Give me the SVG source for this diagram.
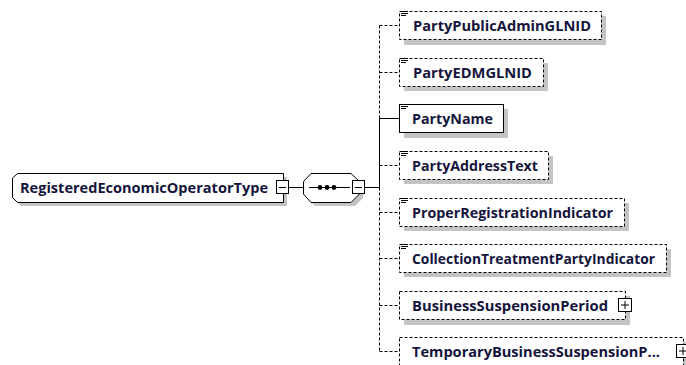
<svg xmlns="http://www.w3.org/2000/svg" width="686" height="365" viewBox="0 0 686 365">
<style>
.sh{fill:#c4c4c4;stroke:none}
.bx{fill:#fff;stroke:#000;stroke-width:1}
.dsh{stroke-dasharray:3,2}
.t{font-family:"Open Sans","DejaVu Sans",sans-serif;font-weight:bold;font-size:14px;fill:#14143c}
.ln{stroke:#000;stroke-width:1;fill:none}
.ic{stroke:#000;stroke-width:1}
</style>
<defs>
<g id="icon"><line class="ic" x1="0" y1="0.5" x2="7" y2="0.5"/><line class="ic" x1="0" y1="2.5" x2="7" y2="2.5"/><line class="ic" x1="0" y1="4.5" x2="5" y2="4.5"/></g>
</defs>
<rect width="686" height="365" fill="#fff"/>
<g id="connectors">
<line class="ln" x1="289" y1="187.5" x2="303" y2="187.5"/>
<line class="ln" x1="365" y1="187.5" x2="379.5" y2="187.5"/>
<line class="ln" x1="379.5" y1="118.5" x2="379.5" y2="187.5"/>
<line class="ln dsh" x1="379.5" y1="25.5" x2="379.5" y2="118.5"/>
<line class="ln dsh" x1="379.5" y1="187.5" x2="379.5" y2="351.5"/>
<line class="ln dsh" x1="379.5" y1="25.5" x2="399" y2="25.5"/>
<line class="ln dsh" x1="379.5" y1="72.5" x2="399" y2="72.5"/>
<line class="ln" x1="379.5" y1="118.5" x2="399" y2="118.5"/>
<line class="ln dsh" x1="379.5" y1="165.5" x2="399" y2="165.5"/>
<line class="ln dsh" x1="379.5" y1="212.5" x2="399" y2="212.5"/>
<line class="ln dsh" x1="379.5" y1="258.5" x2="399" y2="258.5"/>
<line class="ln dsh" x1="379.5" y1="305.5" x2="399" y2="305.5"/>
<line class="ln dsh" x1="379.5" y1="351.5" x2="399" y2="351.5"/>
</g>
<g id="RegisteredEconomicOperatorType">
<path class="sh" d="M16,182 L21,177 L287,177 L287,206 L21,206 L16,201 Z"/>
<path class="bx" d="M12.5,178 L17.5,173.5 L283.5,173.5 L283.5,202.5 L17.5,202.5 L12.5,197.5 Z"/>
<text class="t" x="20" y="193" textLength="248" lengthAdjust="spacingAndGlyphs">RegisteredEconomicOperatorType</text>
<rect class="bx" x="276.5" y="180.5" width="12" height="13"/>
<line class="ln" x1="279" y1="187.5" x2="286" y2="187.5"/>
</g>
<g id="sequence">
<path class="sh" d="M315,177 L355,177 L363,185 L363,198 L355,206 L315,206 L307,198 L307,185 Z"/>
<path class="bx" d="M311,173.5 L351,173.5 L359.5,181.5 L359.5,194 L351,202.5 L311,202.5 L303.5,194 L303.5,181.5 Z"/>
<line class="ln" x1="309" y1="187.5" x2="350" y2="187.5"/>
<circle cx="320" cy="187.5" r="2.4" fill="#000"/>
<circle cx="327" cy="187.5" r="2.4" fill="#000"/>
<circle cx="334" cy="187.5" r="2.4" fill="#000"/>
<rect class="bx" x="352.5" y="180.5" width="12" height="13"/>
<line class="ln" x1="355" y1="187.5" x2="362" y2="187.5"/>
</g>
<g id="PartyPublicAdminGLNID">
<rect class="sh" x="404" y="16" width="202" height="29"/>
<rect class="bx dsh" x="399.5" y="11.5" width="202" height="28"/>
<use href="#icon" x="401" y="11"/>
<text class="t" x="413" y="31" textLength="178" lengthAdjust="spacingAndGlyphs">PartyPublicAdminGLNID</text>
</g>
<g id="PartyEDMGLNID">
<rect class="sh" x="404" y="63" width="144" height="28"/>
<rect class="bx dsh" x="399.5" y="58.5" width="144" height="28"/>
<use href="#icon" x="401" y="58"/>
<text class="t" x="413" y="78" textLength="119" lengthAdjust="spacingAndGlyphs">PartyEDMGLNID</text>
</g>
<g id="PartyName">
<rect class="sh" x="404" y="109" width="104" height="29"/>
<rect class="bx" x="399.5" y="104.5" width="104" height="28"/>
<use href="#icon" x="401" y="104"/>
<text class="t" x="412" y="124" textLength="81" lengthAdjust="spacingAndGlyphs">PartyName</text>
</g>
<g id="PartyAddressText">
<rect class="sh" x="404" y="156" width="149" height="28"/>
<rect class="bx dsh" x="399.5" y="151.5" width="149" height="28"/>
<use href="#icon" x="401" y="151"/>
<text class="t" x="412" y="171" textLength="126" lengthAdjust="spacingAndGlyphs">PartyAddressText</text>
</g>
<g id="ProperRegistrationIndicator">
<rect class="sh" x="404" y="203" width="225" height="28"/>
<rect class="bx dsh" x="399.5" y="198.5" width="225" height="28"/>
<use href="#icon" x="401" y="198"/>
<text class="t" x="412" y="218" textLength="201" lengthAdjust="spacingAndGlyphs">ProperRegistrationIndicator</text>
</g>
<g id="CollectionTreatmentPartyIndicator">
<rect class="sh" x="404" y="249" width="267" height="28"/>
<rect class="bx dsh" x="399.5" y="244.5" width="267" height="28"/>
<use href="#icon" x="401" y="244"/>
<text class="t" x="412" y="264" textLength="243" lengthAdjust="spacingAndGlyphs">CollectionTreatmentPartyIndicator</text>
</g>
<g id="BusinessSuspensionPeriod">
<rect class="sh" x="404" y="296" width="226" height="29"/>
<rect class="bx dsh" x="399.5" y="291.5" width="226" height="28"/>
<text class="t" x="412" y="311" textLength="196" lengthAdjust="spacingAndGlyphs">BusinessSuspensionPeriod</text>
<rect class="bx" x="618.5" y="298.5" width="13" height="13"/>
<line class="ln" x1="621" y1="305" x2="629" y2="305"/>
<line class="ln" x1="625" y1="301" x2="625" y2="309"/>
</g>
<g id="TemporaryBusinessSuspensionPeriod">
<rect class="sh" x="404" y="342" width="284" height="28"/>
<rect class="bx dsh" x="399.5" y="337.5" width="284" height="28"/>
<text class="t" x="412" y="357" textLength="248" lengthAdjust="spacingAndGlyphs">TemporaryBusinessSuspensionP...</text>
<rect class="bx" x="676.5" y="344.5" width="13" height="13"/>
<line class="ln" x1="679" y1="351" x2="687" y2="351"/>
<line class="ln" x1="683" y1="347" x2="683" y2="355"/>
</g>
</svg>
